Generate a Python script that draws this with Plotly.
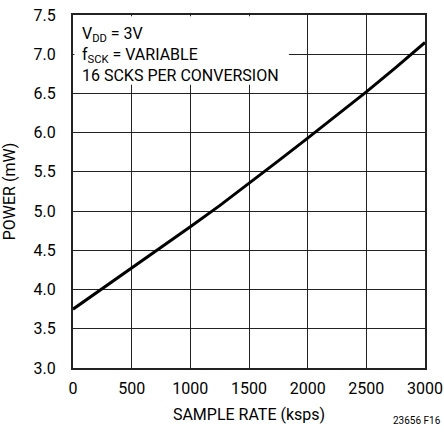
import plotly.graph_objects as go

# sample rate (ksps) and power (mW)
rate = [0, 250, 500, 750, 1000, 1250, 1500, 1750, 2000, 2250, 2500, 2750, 3000]
power = [3.75, 4.01, 4.27, 4.53, 4.80, 5.07, 5.35, 5.64, 5.93, 6.22, 6.52, 6.83, 7.15]

x_ticks = [0, 500, 1000, 1500, 2000, 2500, 3000]
y_ticks = [3.0, 3.5, 4.0, 4.5, 5.0, 5.5, 6.0, 6.5, 7.0, 7.5]

font_name = 'Roboto, sans-serif'

fig = go.Figure()
fig.add_trace(go.Scatter(x=rate, y=power, mode='lines',
                         line=dict(color='black', width=3), hoverinfo='skip'))

axis_style = dict(showgrid=True, gridcolor='#222222', gridwidth=1,
                  showline=True, linecolor='#222222', linewidth=2, mirror=True,
                  zeroline=False, ticks='', automargin=False,
                  tickfont=dict(size=16, color='black'))

fig.update_xaxes(range=[0, 3000], tickvals=x_ticks, ticklabelstandoff=5,
                 title=dict(text='SAMPLE RATE (ksps)', font=dict(size=16, color='black'), standoff=12),
                 **axis_style)
fig.update_yaxes(range=[3.0, 7.5], tickvals=y_ticks, tickformat='.1f', ticklabelstandoff=12,
                 title=dict(text='POWER (mW)', font=dict(size=16, color='black'), standoff=14),
                 **axis_style)

# white box behind the condition text
fig.add_shape(type='rect', xref='x', yref='y', x0=12, x1=1840, y0=6.61, y1=7.485,
              fillcolor='white', line=dict(width=0), layer='above')

fig.add_annotation(xref='paper', yref='paper', x=0.02, y=0.981, xanchor='left', yanchor='top',
                   align='left', showarrow=False,
                   text='V<sub>DD</sub> = 3V<br>f<sub>SCK</sub> = VARIABLE<br>16 SCKS PER CONVERSION',
                   font=dict(size=16, color='black'))

fig.add_annotation(xref='paper', yref='paper', x=1.05, y=-0.15, xanchor='right', yanchor='middle',
                   showarrow=False, text='23656 F16', font=dict(size=10, color='black'))

fig.update_layout(width=444, height=432, margin=dict(l=73, r=19, t=15, b=64),
                  paper_bgcolor='white', plot_bgcolor='white', showlegend=False,
                  font=dict(family=font_name, color='black'))

# drop the page's default body margin so the figure fills the window exactly
fig.write_html('out.html', config={'displayModeBar': False},
               post_script="document.body.style.margin='0';document.body.style.overflow='hidden';")
